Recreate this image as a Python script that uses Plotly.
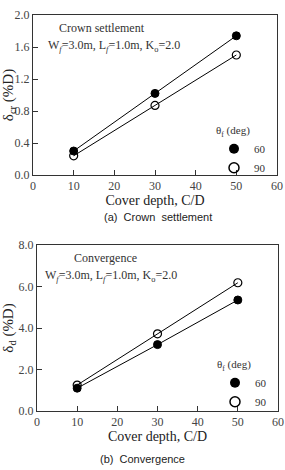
import plotly.graph_objects as go

cover_depth = [10, 30, 50]
crown_60 = [0.30, 1.02, 1.74]
crown_90 = [0.24, 0.87, 1.50]
conv_60 = [1.10, 3.20, 5.35]
conv_90 = [1.25, 3.72, 6.18]
legend_labels = ["60", "90"]
x_ticks = [0, 10, 20, 30, 40, 50, 60]
crown_ticks = [0.0, 0.4, 0.8, 1.2, 1.6, 2.0]
conv_ticks = [0.0, 2.0, 4.0, 6.0, 8.0]

SERIF = "Liberation Serif, Times New Roman, serif"
SANS = "Liberation Sans, Arial, sans-serif"
W, H = 285, 470

def py(p):
    return 1 - p / H

def px(p):
    return p / W

fig = go.Figure()

filled = dict(symbol="circle", size=8, color="black", line=dict(color="black", width=1))
opened = dict(symbol="circle-open", size=8, color="black", line=dict(color="black", width=1.2))
leg_filled = dict(symbol="circle", size=10, color="black")
leg_open = dict(symbol="circle-open", size=10, color="black", line=dict(width=1.5))

fig.add_trace(go.Scatter(x=cover_depth, y=crown_60, mode="lines+markers", marker=filled,
                         line=dict(color="black", width=1), showlegend=False, xaxis="x", yaxis="y"))
fig.add_trace(go.Scatter(x=cover_depth, y=crown_90, mode="lines+markers", marker=opened,
                         line=dict(color="black", width=1), showlegend=False, xaxis="x", yaxis="y"))
fig.add_trace(go.Scatter(x=[None], y=[None], mode="markers", name=legend_labels[0],
                         marker=leg_filled, legend="legend", xaxis="x", yaxis="y"))
fig.add_trace(go.Scatter(x=[None], y=[None], mode="markers", name=legend_labels[1],
                         marker=leg_open, legend="legend", xaxis="x", yaxis="y"))

fig.add_trace(go.Scatter(x=cover_depth, y=conv_60, mode="lines+markers", marker=filled,
                         line=dict(color="black", width=1), showlegend=False, xaxis="x2", yaxis="y2"))
fig.add_trace(go.Scatter(x=cover_depth, y=conv_90, mode="lines+markers", marker=opened,
                         line=dict(color="black", width=1), showlegend=False, xaxis="x2", yaxis="y2"))
fig.add_trace(go.Scatter(x=[None], y=[None], mode="markers", name=legend_labels[0],
                         marker=leg_filled, legend="legend2", xaxis="x2", yaxis="y2"))
fig.add_trace(go.Scatter(x=[None], y=[None], mode="markers", name=legend_labels[1],
                         marker=leg_open, legend="legend2", xaxis="x2", yaxis="y2"))

axis_common = dict(showline=True, linecolor="#333", linewidth=1, mirror=True, ticks="inside",
                   ticklen=5, tickcolor="#333", showgrid=False, zeroline=False, automargin=False,
                   ticklabeloverflow="allow", ticklabelposition="outside",
                   tickfont=dict(family=SERIF, size=12, color="#444"))

xt = dict(range=[0, 60], tickvals=x_ticks, ticktext=[str(v) for v in x_ticks],
          title=dict(text="Cover depth, C/D", font=dict(family=SERIF, size=14, color="#222"), standoff=0))

legend_common = dict(bgcolor="rgba(0,0,0,0)", font=dict(family=SERIF, size=11, color="#333"),
                     title=dict(text="θ<sub>f</sub> (deg)", font=dict(family=SERIF, size=11, color="#333")),
                     xanchor="left", yanchor="top", tracegroupgap=0, itemsizing="trace",
                     itemwidth=30)

fig.update_layout(
    width=W, height=H,
    margin=dict(l=0, r=0, t=0, b=0),
    paper_bgcolor="white", plot_bgcolor="white",
    xaxis=dict(domain=[px(33), px(277)], anchor="y", **axis_common, **xt),
    yaxis=dict(domain=[py(175), py(15)], anchor="x", range=[0, 2.0], tickvals=crown_ticks,
               ticktext=[f"{v:.1f}" for v in crown_ticks],
               title=dict(text="δ<sub>cr</sub> (%D)", font=dict(family=SERIF, size=15, color="#222"), standoff=3),
               **axis_common),
    xaxis2=dict(domain=[px(37), px(278)], anchor="y2", **axis_common, **xt),
    yaxis2=dict(domain=[py(411), py(245)], anchor="x2", range=[0, 8.0], tickvals=conv_ticks,
                ticktext=[f"{v:.1f}" for v in conv_ticks],
                title=dict(text="δ<sub>d</sub> (%D)", font=dict(family=SERIF, size=15, color="#222"), standoff=3),
                **axis_common),
    legend=dict(x=px(214), y=py(120), **legend_common),
    legend2=dict(x=px(215), y=py(354), **legend_common),
    showlegend=True,
)

ann_font = dict(family=SERIF, size=12, color="#333")

def note(text, x, y, xanchor="center", font=ann_font):
    fig.add_annotation(text=text, x=px(x), y=py(y), xref="paper", yref="paper",
                       xanchor=xanchor, yanchor="middle", showarrow=False, font=font)

note("Crown settlement", 102, 28)
note("W<sub><i>f</i></sub>=3.0m, L<sub><i>f</i></sub>=1.0m, K<sub>o</sub>=2.0", 46, 46, "left")
note("Convergence", 105, 258)
note("W<sub><i>f</i></sub>=3.0m, L<sub><i>f</i></sub>=1.0m, K<sub>o</sub>=2.0", 43, 276, "left")
cap_font = dict(family=SANS, size=11, color="#222")
note("(a)  Crown  settlement", 158, 217, font=cap_font)
note("(b)  Convergence", 142, 459, font=cap_font)

fig.write_html("out.html")
